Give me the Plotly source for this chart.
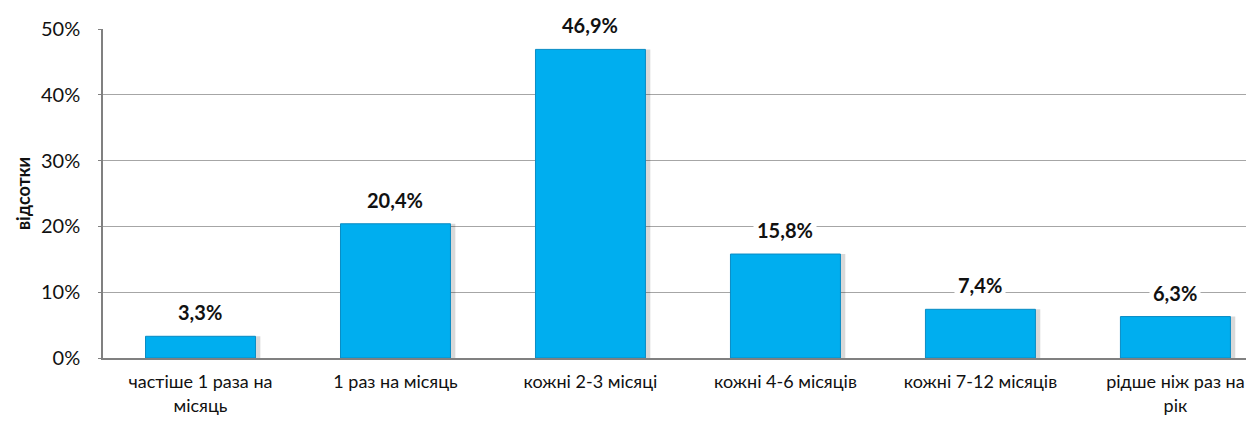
import plotly.graph_objects as go

# Частота (відсотки респондентів)
categories = ["частіше 1 раза на<br>місяць", "1 раз на місяць", "кожні 2-3 місяці",
              "кожні 4-6 місяців", "кожні 7-12 місяців", "рідше ніж раз на<br>рік"]
values = [3.3, 20.4, 46.9, 15.8, 7.4, 6.3]
y_ticks = [0, 10, 20, 30, 40, 50]
y_tick_labels = ["0%", "10%", "20%", "30%", "40%", "50%"]

FONT = "Lato, 'Open Sans', sans-serif"
BAR_W = 0.564

fig = go.Figure()

# soft shadow behind the bars
fig.add_trace(go.Bar(
    x=list(range(len(values))), y=values,
    width=BAR_W, offset=-BAR_W / 2 + 0.025,
    marker=dict(color="rgba(0,0,0,0.15)", line=dict(width=0)),
    hoverinfo="skip", showlegend=False,
))

fig.add_trace(go.Bar(
    x=list(range(len(values))), y=values,
    width=BAR_W, offset=-BAR_W / 2,
    marker=dict(color="#00AEEF", line=dict(color="#0a8cc4", width=1)),
    showlegend=False,
))

# data labels with white background over gridlines
for i, v in enumerate(values):
    fig.add_annotation(
        x=i, y=v, yshift=24, yanchor="middle",
        text="<b>" + f"{v:.1f}".replace(".", ",") + "%</b>",
        showarrow=False, bgcolor="white",
        font=dict(family=FONT, size=20, color="#111111"),
        borderpad=3,
    )

# page has an 8px body margin, so the figure is a bit smaller than the window
fig.update_layout(
    width=1246, height=427,
    margin=dict(l=95, r=0, t=21, b=77),
    paper_bgcolor="white", plot_bgcolor="white",
    barmode="overlay",
    font=dict(family=FONT, size=20, color="#111111"),
)

fig.update_xaxes(
    tickmode="array", tickvals=list(range(len(categories))), ticktext=categories,
    range=[-0.5, 5.403],
    showline=True, linecolor="#808080", linewidth=1.5,
    showgrid=False, ticks="", tickfont=dict(size=18),
    ticklabelstandoff=7,
)

fig.update_yaxes(
    range=[0, 50], tickmode="array", tickvals=y_ticks, ticktext=y_tick_labels,
    showgrid=True, gridcolor="#a6a6a6", gridwidth=1,
    showline=True, linecolor="#808080", linewidth=1.5,
    ticks="outside", ticklen=3, tickcolor="#808080",
    tickfont=dict(size=20), ticklabelstandoff=14,
    title=dict(text="<b>відсотки</b>", font=dict(size=18), standoff=6),
    zeroline=False,
)

fig.write_html("out.html")
